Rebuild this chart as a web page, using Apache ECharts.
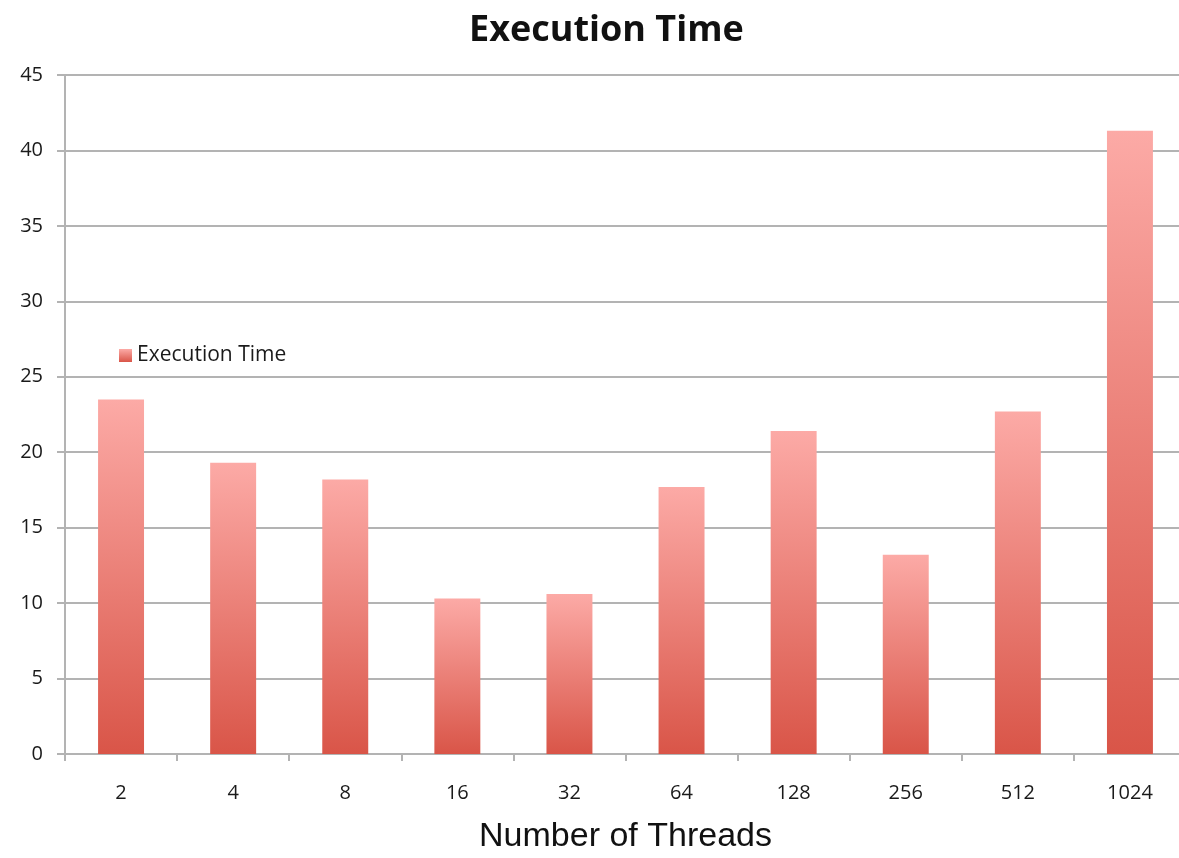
<!DOCTYPE html>
<html>
<head>
<meta charset="utf-8">
<script src="https://cdn.jsdelivr.net/npm/echarts@6/dist/echarts.min.js"></script>
<style>
  html, body { margin: 0; padding: 0; background: #fff; overflow: hidden; }
  #chart { width: 1179px; height: 858px; }
</style>
</head>
<body>
<div id="chart"></div>
<script>
// thread counts and measured times
var threads = ['2', '4', '8', '16', '32', '64', '128', '256', '512', '1024'];
var execTime = [23.5, 19.3, 18.2, 10.3, 10.6, 17.7, 21.4, 13.2, 22.7, 41.3];

var myChart = echarts.init(document.getElementById('chart'));
var gridColor = '#b3b3b3';

var option = {
    animation: false,
    backgroundColor: '#fff',
    title: {
        text: 'Execution Time',
        left: 464,
        top: 8,
        textStyle: { fontFamily: 'Open Sans', fontWeight: 'bold', fontSize: 36, color: '#111' }
    },
    legend: {
        left: 114,
        top: 340,
        itemWidth: 13,
        itemHeight: 13,
        itemGap: 6,
        icon: 'rect',
        textStyle: { fontFamily: 'Open Sans', fontSize: 21, color: '#1a1a1a' },
        data: ['Execution Time']
    },
    grid: { left: 65, right: -7, top: 75, bottom: 104, outerBoundsMode: 'none' },
    xAxis: {
        type: 'category',
        data: threads,
        name: 'Number of Threads',
        nameLocation: 'middle',
        nameGap: 66,
        nameTextStyle: { fontFamily: 'Liberation Sans', fontSize: 34, color: '#111' },
        axisLine: { lineStyle: { color: gridColor, width: 2 } },
        axisTick: { show: true, length: 7, lineStyle: { color: gridColor, width: 2 } },
        axisLabel: { margin: 29, fontFamily: 'Open Sans', fontSize: 20, color: '#1a1a1a' }
    },
    yAxis: {
        type: 'value',
        min: 0,
        max: 45,
        interval: 5,
        axisLine: { show: true, lineStyle: { color: gridColor, width: 2 } },
        axisTick: { show: true, length: 8, lineStyle: { color: gridColor, width: 2 } },
        axisLabel: { margin: 22, fontFamily: 'Open Sans', fontSize: 20, color: '#1a1a1a' },
        splitLine: { lineStyle: { color: gridColor, width: 2 } }
    },
    series: [
        {
            name: 'Execution Time',
            type: 'bar',
            data: execTime,
            barWidth: '41%',
            itemStyle: {
                color: new echarts.graphic.LinearGradient(0, 0, 0, 1, [
                    { offset: 0, color: '#fcaaa6' },
                    { offset: 1, color: '#d95548' }
                ])
            }
        }
    ]
};

myChart.setOption(option);
</script>
</body>
</html>
